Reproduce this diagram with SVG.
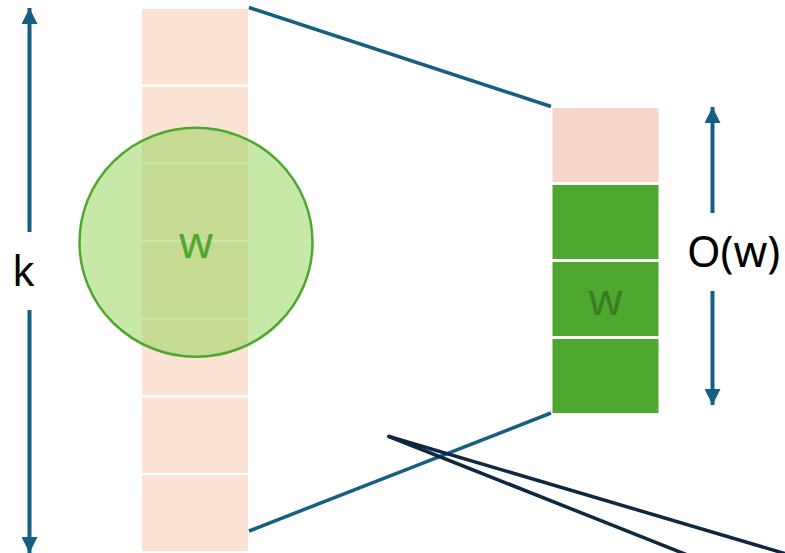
<svg xmlns="http://www.w3.org/2000/svg" width="785" height="553" viewBox="0 0 785 553">
  <style>
    .cell-k { fill: #fbe3d6; }
    .cell-pink { fill: #f6d5cb; stroke: #ffffff; stroke-width: 1; }
    .cell-green { fill: #4ea72e; stroke: #ffffff; stroke-width: 1; }
    .dim { stroke: #156082; stroke-width: 4; fill: none; }
    .link { stroke: #156082; stroke-width: 3.5; fill: none; }
    .dark { stroke: #0e2841; stroke-width: 3.5; fill: none; stroke-linecap: round; }
    .label { font-family: "Noto Sans", "Open Sans", "DejaVu Sans", sans-serif; }
  </style>
  <defs>
    <marker id="arrow" viewBox="0 0 16 16" refX="16" refY="8" markerWidth="16" markerHeight="16" markerUnits="userSpaceOnUse" orient="auto">
      <path d="M0,0 L16,8 L0,16 Z" fill="#156082"/>
    </marker>
  </defs>

  <!-- tall column of k cells -->
  <g id="column-k">
    <rect class="cell-k" x="142" y="9" width="106" height="75.5"/>
    <rect class="cell-k" x="142" y="86.7" width="106" height="75.5"/>
    <rect class="cell-k" x="142" y="164.4" width="106" height="75.5"/>
    <rect class="cell-k" x="142" y="242.1" width="106" height="75.5"/>
    <rect class="cell-k" x="142" y="319.8" width="106" height="75.5"/>
    <rect class="cell-k" x="142" y="397.5" width="106" height="75.5"/>
    <rect class="cell-k" x="142" y="475.2" width="106" height="75.8"/>
  </g>

  <!-- window circle -->
  <g id="window">
    <ellipse cx="196" cy="242.3" rx="116.5" ry="114.5" fill="#8fd14f" fill-opacity="0.5" stroke="#4ea72e" stroke-width="2.5"/>
    <text class="label" x="196" y="258" font-size="44" fill="#4ea72e" text-anchor="middle">w</text>
  </g>

  <!-- short column -->
  <g id="column-w">
    <rect class="cell-pink" x="552" y="107.5" width="107" height="75"/>
    <rect class="cell-green" x="552" y="184.5" width="107" height="75"/>
    <rect class="cell-green" x="552" y="261.5" width="107" height="75"/>
    <rect class="cell-green" x="552" y="338.5" width="107" height="75"/>
    <text class="label" x="605.5" y="315" font-size="44" fill="#3b7d23" text-anchor="middle">w</text>
  </g>

  <!-- dimension labels -->
  <g id="label-k">
    <text class="label" x="23.5" y="286" font-size="42" fill="#000000" text-anchor="middle">k</text>
  </g>
  <g id="label-ow">
    <text class="label" x="733.5" y="267" font-size="43" fill="#000000" text-anchor="middle">O(w)</text>
  </g>

  <g id="connectors">
    <!-- k dimension arrow -->
    <line class="dim" x1="29.5" y1="232" x2="29.5" y2="8" marker-end="url(#arrow)"/>
    <line class="dim" x1="29.5" y1="310" x2="29.5" y2="553" marker-end="url(#arrow)"/>
    <!-- O(w) dimension arrow -->
    <line class="dim" x1="712.5" y1="213" x2="712.5" y2="107" marker-end="url(#arrow)"/>
    <line class="dim" x1="712.5" y1="291" x2="712.5" y2="405" marker-end="url(#arrow)"/>
    <!-- projection lines -->
    <line class="link" x1="249" y1="7.5" x2="551" y2="106.5"/>
    <line class="link" x1="249" y1="531" x2="551" y2="413"/>
    <!-- dark strokes -->
    <line class="dark" x1="389" y1="436.5" x2="790" y2="555"/>
    <line class="dark" x1="389" y1="436.5" x2="690" y2="556"/>
  </g>
</svg>
